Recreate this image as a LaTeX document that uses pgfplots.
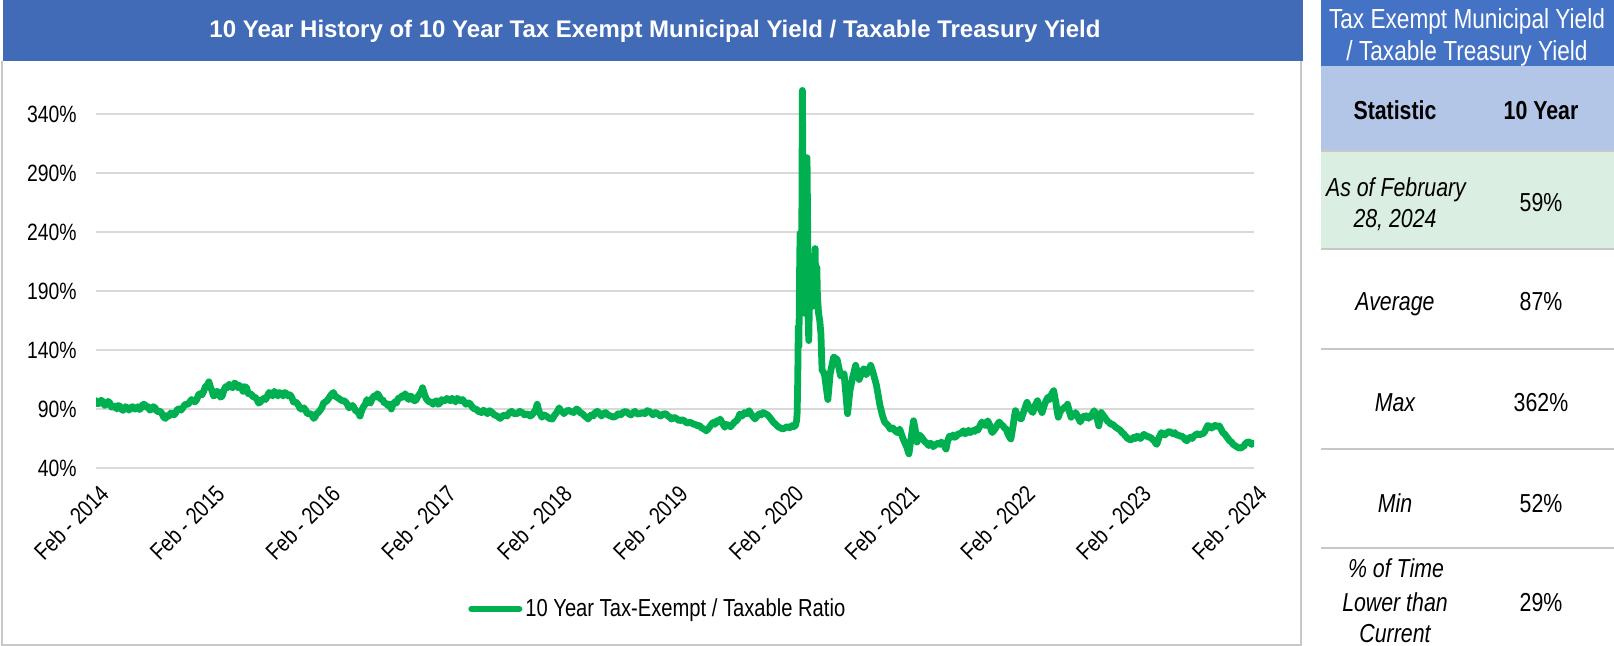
\documentclass[border=0pt]{standalone}
\usepackage{pgfplots}
\pgfplotsset{compat=1.18}
\usepackage{fontspec}
\setmainfont{Liberation Sans}[FakeStretch=0.82]
\newfontfamily\titlefont{Liberation Sans}
\definecolor{lgreen}{HTML}{00B050}
\definecolor{titleblue}{HTML}{416BB6}
\definecolor{hdrblue}{HTML}{4472C4}
\definecolor{statblue}{HTML}{B4C6E7}
\definecolor{asofgreen}{HTML}{DBEEE2}
\definecolor{gridgray}{HTML}{D9D9D9}
\definecolor{bordergray}{HTML}{C8C8C8}
\pgfplotstableread{
x y
0.00 97
0.015 94.5
0.03 95
0.045 97.5
0.06 96
0.075 93
0.09 94
0.105 96.5
0.12 95
0.135 91.5
0.15 92
0.165 92.5
0.18 90
0.195 93
0.21 92
0.225 89
0.24 89
0.255 92
0.27 91
0.285 89
0.30 91
0.315 92
0.33 90
0.345 90
0.36 92
0.375 89.5
0.39 91
0.405 94
0.42 94
0.435 91.5
0.45 92
0.465 89
0.48 90
0.495 92
0.51 91
0.525 88
0.54 88
0.555 88
0.57 86
0.585 83
0.60 82
0.615 84.5
0.63 84
0.645 86.5
0.66 86
0.675 85
0.69 87
0.705 90
0.72 90
0.735 89
0.75 91
0.765 93.5
0.78 94
0.795 94
0.81 96
0.825 98
0.84 97
0.855 96
0.87 98
0.885 102
0.90 103
0.915 102
0.93 105
0.945 109
0.96 110
0.975 113
0.99 108
1.00 106
1.015 101
1.03 102
1.045 105
1.06 104
1.075 100
1.09 101
1.105 106
1.12 109
1.135 108
1.15 111
1.165 109
1.18 108
1.195 112
1.21 111
1.225 108
1.24 110
1.255 108
1.27 105
1.285 109
1.30 108
1.315 103
1.33 103
1.345 102
1.36 100
1.375 100
1.39 98
1.405 95
1.42 96
1.435 98
1.45 99
1.465 98
1.48 101
1.495 104
1.51 103
1.525 101
1.54 105
1.555 103
1.57 101
1.585 104
1.60 103
1.615 101
1.63 104
1.645 103
1.66 101
1.675 102
1.69 100
1.705 96
1.72 96
1.735 95
1.75 93
1.765 90
1.78 90
1.795 91
1.81 89
1.825 86
1.84 86
1.855 86
1.87 84
1.88 82
1.89 83
1.905 86
1.92 87
1.935 89
1.95 91
1.965 95
1.98 96
1.995 97
2.01 99
2.03 102
2.05 104
2.065 101
2.08 100
2.095 99
2.11 98
2.125 97
2.14 97
2.155 96
2.17 94
2.185 91
2.20 92
2.215 93
2.23 91
2.245 88
2.26 88
2.27 86
2.28 84
2.295 89
2.31 92
2.325 94
2.34 98
2.355 96
2.37 95
2.385 99
2.40 101
2.415 100
2.43 103
2.445 101
2.46 98
2.475 98
2.49 95
2.505 95
2.52 93
2.535 94
2.55 90
2.565 94
2.58 96
2.595 95
2.61 99
2.625 99
2.64 101
2.655 100
2.67 103
2.685 100
2.70 98
2.715 101
2.73 100
2.745 97
2.76 97
2.775 100
2.79 102
2.805 104
2.82 108
2.835 103
2.85 99
2.865 97
2.88 96
2.895 96
2.91 94
2.925 96
2.94 97
2.955 94
2.97 95
2.985 98
3.00 97
3.015 97
3.03 99
3.045 98
3.06 97
3.075 99
3.09 98
3.105 96
3.12 99
3.135 98
3.15 97
3.165 98
3.18 96
3.195 94
3.21 95
3.225 95
3.24 93
3.255 91
3.27 90
3.285 90
3.30 88
3.33 87
3.345 89
3.36 88
3.38 86
3.40 88.6
3.42 87
3.44 85
3.465 84
3.49 82
3.51 84
3.53 85
3.55 84
3.57 87
3.59 88
3.61 86
3.635 86
3.66 88
3.68 87
3.70 85
3.725 86
3.75 84
3.765 85
3.78 87
3.795 89
3.81 94
3.82 90
3.83 87
3.84 85
3.85 83
3.87 85
3.89 84
3.915 82
3.94 81.5
3.955 84
3.97 86
3.985 88
4.00 91
4.015 88
4.03 88
4.04 86
4.05 87
4.075 89
4.10 88
4.125 87
4.15 90
4.165 89
4.18 87
4.20 86
4.22 84
4.235 83
4.25 81.5
4.265 84
4.28 85
4.295 84
4.31 87
4.33 88
4.35 86
4.365 84
4.38 85.8
4.40 87
4.42 85
4.445 84
4.47 83
4.49 84
4.51 86
4.53 85
4.55 87
4.575 88
4.60 86
4.62 85
4.64 87
4.655 88
4.67 85.8
4.695 86
4.72 87
4.74 86
4.76 88.6
4.775 88
4.79 87
4.80 86
4.81 85
4.83 87
4.85 86
4.875 84
4.90 85.8
4.92 86
4.94 84
4.955 83
4.97 81.5
4.99 83
5.01 82
5.025 81
5.04 80
5.06 81
5.08 80
5.105 78
5.13 78.7
5.145 78
5.16 77
5.175 77
5.19 75.9
5.21 76
5.23 74
5.25 73
5.27 71.6
5.285 73
5.30 75
5.315 77
5.33 78.7
5.345 77
5.36 80
5.375 79
5.39 81.5
5.41 78
5.43 74.5
5.445 77
5.46 76
5.48 75
5.50 77.3
5.515 79
5.53 80
5.545 82
5.56 85.8
5.58 84
5.60 87
5.62 86
5.64 88.6
5.655 86
5.67 84
5.68 83
5.69 81.5
5.71 84
5.73 86
5.745 85
5.76 87
5.78 86
5.80 85
5.825 82
5.85 78.7
5.87 77
5.89 75
5.91 74
5.93 73
5.95 74
5.97 75
5.99 74
6.01 75.9
6.025 75
6.04 76
6.050 80
6.055 87
6.060 115
6.065 160
6.070 143
6.075 199
6.080 239
6.085 200
6.090 171
6.095 240
6.100 360
6.105 290
6.110 255
6.115 200
6.120 171
6.130 240
6.140 303
6.145 250
6.150 170
6.155 148
6.160 175
6.170 185
6.175 213
6.180 195
6.190 177
6.200 205
6.210 226
6.215 195
6.225 210
6.230 185
6.240 171
6.250 165
6.260 154
6.270 123
6.290 120
6.320 98
6.340 120
6.370 134
6.400 132
6.430 118
6.460 120
6.490 86
6.51 105
6.53 115
6.56 127
6.59 115
6.61 120
6.63 124
6.65 119
6.67 122.5
6.69 127
6.71 121
6.74 110
6.77 93
6.79 85
6.81 79
6.84 76
6.86 73
6.88 74
6.90 71.6
6.92 70
6.94 73
6.97 64.6
7.00 58
7.02 52
7.04 66
7.06 80
7.08 70
7.09 62
7.11 68
7.13 66
7.145 64
7.16 62
7.175 61
7.19 59
7.205 61
7.22 60
7.23 58
7.24 59
7.255 60
7.27 61
7.285 60
7.30 62
7.31 61
7.32 60
7.33 58
7.34 56
7.355 63
7.37 67
7.385 66
7.40 68
7.415 66
7.43 67
7.445 69
7.46 69
7.475 70
7.49 71.6
7.505 69
7.52 70
7.535 72
7.55 70
7.565 71
7.58 72
7.59 71
7.60 73
7.615 72
7.63 75
7.64 77
7.65 79
7.665 77
7.68 76
7.69 78
7.70 80
7.71 78
7.72 76
7.73 72
7.74 70
7.755 72
7.77 74
7.785 77
7.80 79
7.815 77
7.83 76
7.845 74
7.86 73
7.87 70
7.88 68
7.89 66
7.90 64.6
7.91 70
7.92 76
7.93 83
7.94 88.6
7.955 85
7.97 84
7.98 82
7.99 81.5
8.005 86
8.02 90
8.03 93
8.04 95.6
8.055 92
8.07 90
8.08 88
8.09 87
8.10 90
8.11 93
8.12 95
8.13 97
8.14 94
8.15 92
8.16 89
8.17 87
8.185 92
8.20 96
8.21 98
8.22 100
8.235 98
8.25 102
8.26 104
8.27 105.5
8.28 100
8.29 95
8.30 88
8.31 83
8.32 86
8.33 88
8.34 90
8.35 90
8.36 91
8.37 92
8.38 92
8.39 94
8.405 88
8.42 83
8.43 85
8.44 86
8.45 85
8.46 87
8.47 85
8.48 83
8.49 81
8.50 79
8.515 82
8.53 84
8.54 83
8.55 84.4
8.56 83
8.57 82
8.58 84
8.59 83
8.605 86
8.62 88.6
8.63 86
8.64 84
8.65 80
8.66 75.7
8.67 82
8.68 87
8.695 85
8.71 83
8.725 81
8.74 79
8.75 79
8.76 77
8.78 77
8.80 75
8.815 74
8.83 73
8.845 72
8.86 70
8.875 69
8.89 67
8.91 65
8.93 64
8.945 64
8.96 66
8.975 65
8.99 67
9.005 66
9.02 65
9.035 67
9.05 68.6
9.065 67
9.08 67
9.095 66
9.11 65.7
9.125 64
9.14 63
9.15 61
9.16 60
9.17 63
9.18 66
9.19 68
9.20 70
9.215 69
9.23 68
9.25 70
9.27 71
9.285 70
9.30 69
9.315 70
9.33 68
9.345 68
9.36 67
9.375 67
9.39 66
9.405 64
9.42 63
9.435 65
9.45 66
9.465 65
9.48 67
9.495 68
9.51 69
9.525 68
9.54 68.6
9.555 69
9.57 70
9.58 72
9.59 74
9.60 76
9.61 75.7
9.625 74
9.64 74
9.655 76
9.67 76
9.685 75
9.70 75.7
9.715 73
9.73 70
9.745 69
9.76 67
9.775 65
9.79 63
9.805 62
9.82 60
9.835 59
9.85 58
9.87 57
9.89 57
9.90 58
9.91 58
9.92 60
9.93 61
9.945 62
9.96 62
9.97 61
9.98 60
9.99 61
10.00 61
}\ratio
\begin{document}
\begin{tikzpicture}
\begin{scope}[x=0.5pt,y=-0.5pt]
\useasboundingbox (0,0) rectangle (1614,646);
% chart frame and title bar
\draw[bordergray, line width=0.8pt] (2,61) -- (2,645) -- (1301,645) -- (1301,61);
\fill[titleblue] (3,0) rectangle (1303,61);
\node[text=white, font=\titlefont\fontsize{12}{14}\bfseries\selectfont] at (655,31) {10 Year History of 10 Year Tax Exempt Municipal Yield / Taxable Treasury Yield};
% statistics table
\fill[hdrblue] (1321,0) rectangle (1614,66);
\fill[statblue] (1321,66) rectangle (1614,151);
\fill[asofgreen] (1321,151) rectangle (1614,249);
\foreach \yy in {151,249,349,449,548} \draw[bordergray, line width=0.75pt] (1321,\yy) -- (1614,\yy);
\begin{scope}[every node/.style={anchor=base, inner sep=0pt}]
\node[text=white, font=\fontsize{13.8}{16}\selectfont] at (1467,29) {Tax Exempt Municipal Yield};
\node[text=white, font=\fontsize{13.8}{16}\selectfont] at (1467,61) {/ Taxable Treasury Yield};
\node[font=\fontsize{13}{16}\bfseries\selectfont] at (1395,120) {Statistic};
\node[font=\fontsize{13}{16}\bfseries\selectfont] at (1541,120) {10 Year};
\node[font=\fontsize{13}{16}\itshape\selectfont] at (1396,197) {As of February};
\node[font=\fontsize{13}{16}\itshape\selectfont] at (1395,228) {28, 2024};
\node[font=\fontsize{13}{16}\selectfont] at (1541,212) {59\%};
\node[font=\fontsize{13}{16}\itshape\selectfont] at (1395,311) {Average};
\node[font=\fontsize{13}{16}\selectfont] at (1541,311) {87\%};
\node[font=\fontsize{13}{16}\itshape\selectfont] at (1395,412) {Max};
\node[font=\fontsize{13}{16}\selectfont] at (1541,412) {362\%};
\node[font=\fontsize{13}{16}\itshape\selectfont] at (1395,513) {Min};
\node[font=\fontsize{13}{16}\selectfont] at (1541,513) {52\%};
\node[font=\fontsize{13}{16}\itshape\selectfont] at (1396,578) {\% of Time};
\node[font=\fontsize{13}{16}\itshape\selectfont] at (1395,612) {Lower than};
\node[font=\fontsize{13}{16}\itshape\selectfont] at (1395,643) {Current};
\node[font=\fontsize{13}{16}\selectfont] at (1541,612) {29\%};
\end{scope}
\end{scope}
\begin{axis}[
  at={(48pt,-234pt)}, anchor=south west,
  scale only axis, width=579pt, height=191.75pt,
  xmin=0, xmax=10, ymin=40, ymax=365,
  axis line style={draw=none}, tick style={draw=none},
  ymajorgrids, major grid style={gridgray, line width=0.75pt},
  ytick={40,90,140,190,240,290,340},
  yticklabels={40\%,90\%,140\%,190\%,240\%,290\%,340\%},
  yticklabel style={anchor=east, inner sep=0pt, xshift=-9.5pt, font=\fontsize{11.8}{14}\selectfont},
  xtick={0,1,2,3,4,5,6,7,8,9,10},
  xticklabels={Feb - 2014,Feb - 2015,Feb - 2016,Feb - 2017,Feb - 2018,Feb - 2019,Feb - 2020,Feb - 2021,Feb - 2022,Feb - 2023,Feb - 2024},
  xticklabel style={rotate=45, anchor=north east, inner sep=0pt, xshift=-4.5pt, yshift=-6pt, font=\fontsize{11.8}{14}\selectfont},
  legend style={at={(0.3212,-0.3677)}, anchor=west, draw=none, fill=none, inner sep=0pt,
     font=\fontsize{12.3}{14}\selectfont, nodes={inner sep=1.5pt}},
  legend image code/.code={\draw[line width=3pt, color=lgreen, line cap=round] (0pt,0pt) -- (24pt,0pt);},
]
\addplot[color=lgreen, line width=3.4pt, line join=round, line cap=round, mark=none] table[x=x,y=y] {\ratio};
\addlegendentry{10 Year Tax-Exempt / Taxable Ratio}
\end{axis}
\end{tikzpicture}
\end{document}
